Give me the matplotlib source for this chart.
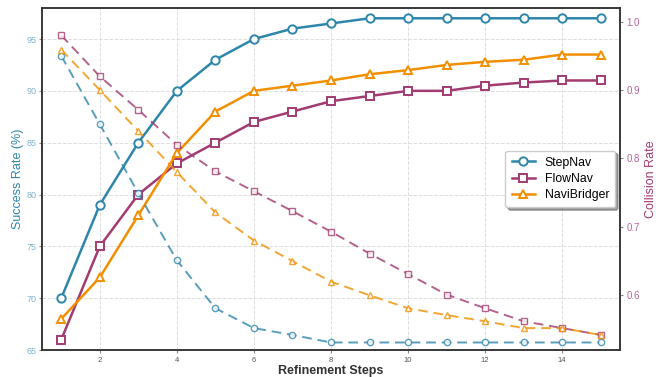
import numpy as np
import matplotlib
matplotlib.use("Agg")
from matplotlib import pyplot as plt

plt.rcParams['font.family'] = ['Liberation Sans', 'DejaVu Sans']

steps = np.arange(1, 16)

# success rate (%) - left axis
success_stepnav = [70, 79, 85, 90, 93, 95, 96, 96.5, 97, 97, 97, 97, 97, 97, 97]
success_flownav = [66, 75, 80, 83, 85, 87, 88, 89, 89.5, 90, 90, 90.5, 90.8, 91, 91]
success_navibridger = [68, 72, 78, 84, 88, 90, 90.5, 91, 91.6, 92, 92.5, 92.8, 93, 93.5, 93.5]

# collision rate - right axis
collision_stepnav = [0.95, 0.85, 0.749, 0.651, 0.581, 0.552, 0.542, 0.531, 0.531,
                     0.531, 0.531, 0.531, 0.531, 0.531, 0.531]
collision_flownav = [0.98, 0.92, 0.871, 0.82, 0.781, 0.752, 0.723, 0.693, 0.661,
                     0.631, 0.601, 0.581, 0.562, 0.552, 0.542]
collision_navibridger = [0.959, 0.90, 0.84, 0.78, 0.721, 0.68, 0.65, 0.62, 0.60,
                         0.581, 0.571, 0.562, 0.552, 0.552, 0.542]

methods = ["StepNav", "FlowNav", "NaviBridger"]
colors = ["#2E86AB", "#A23B72", "#F18F01"]
markers = ["o", "s", "^"]
success = [success_stepnav, success_flownav, success_navibridger]
collision = [collision_stepnav, collision_flownav, collision_navibridger]

fig = plt.figure(figsize=(6.61, 3.77), dpi=100)
ax = fig.add_axes([0.0635, 0.0716, 0.8745, 0.9074])
ax2 = ax.twinx()

for name, c, m, ys in zip(methods, colors, markers, success):
    ax.plot(steps, ys, color=c, marker=m, markersize=6, markerfacecolor="white",
            markeredgewidth=1.4, linewidth=1.8, label=name, zorder=3)

for c, m, ys in zip(colors, markers, collision):
    ax2.plot(steps, ys, color=c, marker=m, markersize=4.5, markerfacecolor="white",
             markeredgewidth=1.0, linewidth=1.4, linestyle=(0, (5, 3)), alpha=0.8)

ax.set_xlim(0.5, 15.5)
ax.set_ylim(65, 98)
ax2.set_ylim(0.52, 1.02)
ax.set_xticks([2, 4, 6, 8, 10, 12, 14])
ax.set_yticks([65, 70, 75, 80, 85, 90, 95])
ax2.set_yticks([0.6, 0.7, 0.8, 0.9, 1.0])

ax.grid(True, linestyle="--", color="#dddddd", linewidth=0.7)
ax.set_axisbelow(True)

ax.set_xlabel("Refinement Steps", fontsize=9, fontweight="bold", color="#333333", labelpad=1)
ax.set_ylabel("Success Rate (%)", fontsize=9, color="#2E86AB", labelpad=2)
ax2.set_ylabel("Collision Rate", fontsize=9, color="#A23B72", labelpad=4)

ax.tick_params(axis="x", labelsize=5.5, colors="#555555", length=2, color="#888888", pad=3)
ax.tick_params(axis="y", labelsize=6.5, labelcolor="#7fb3cc", length=2, color="#888888", pad=2)
ax2.tick_params(axis="y", labelsize=7, labelcolor="#b5669a", length=2.5, color="#888888", pad=2)

for a in (ax, ax2):
    for sp in a.spines.values():
        sp.set_color("#333333")
        sp.set_linewidth(1.1)

leg = ax.legend(loc="center right", bbox_to_anchor=(1.0, 0.5), fontsize=8.8,
                frameon=True, shadow=True, fancybox=True, handlelength=1.9,
                borderpad=0.5, labelspacing=0.35, borderaxespad=0.4)
leg.get_frame().set_edgecolor("#cccccc")
leg.set_zorder(10)

fig.savefig("out.png", dpi=100)
